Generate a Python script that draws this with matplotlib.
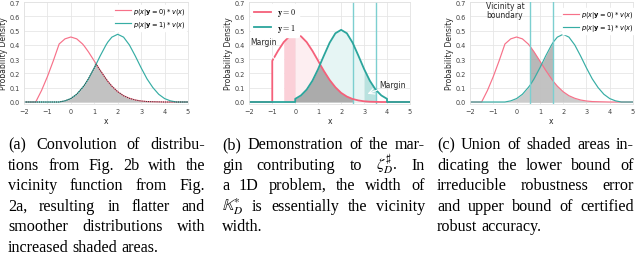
import numpy as np
import matplotlib
matplotlib.use('Agg')
import matplotlib.pyplot as plt

# convolved densities (panels a and c)
x_conv = [-2, -1.75, -1.5, -1.25, -1, -0.75, -0.5, -0.25, 0, 0.25, 0.5, 0.58, 0.75, 1,
          1.08, 1.25, 1.5, 1.58, 1.75, 2, 2.25, 2.5, 2.75, 3, 3.25, 3.5, 3.75, 4, 4.25,
          4.5, 4.75, 5]
red_conv = [0, 0, 0, 0.081, 0.178, 0.288, 0.406, 0.442, 0.455, 0.442, 0.406, 0.390, 0.351,
            0.287, 0.266, 0.222, 0.162, 0.144, 0.111, 0.072, 0.044, 0.026, 0.014, 0.007,
            0.003, 0.002, 0.001, 0, 0, 0, 0, 0]
green_conv = [0, 0, 0, 0, 0, 0, 0, 0.008, 0.024, 0.054, 0.101, 0.118, 0.162, 0.239, 0.265,
              0.322, 0.399, 0.420, 0.454, 0.474, 0.454, 0.399, 0.322, 0.239, 0.162, 0.101,
              0.054, 0.024, 0.008, 0, 0, 0]

# truncated densities (panel b)
x_b = [-2, -1, -1, -0.75, -0.5, -0.25, 0, 0, 0.25, 0.5, 0.75, 1, 1.08, 1.25, 1.5, 1.75, 2,
       2.25, 2.5, 2.75, 3, 3.25, 3.5, 3.75, 4, 4, 5]
red_b = [0, 0, 0.288, 0.358, 0.419, 0.460, 0.474, 0.474, 0.460, 0.419, 0.358, 0.288, 0.264,
         0.217, 0.154, 0.103, 0.064, 0.038, 0.021, 0.011, 0.005, 0.002, 0.001, 0, 0, 0, 0]
green_b = [0, 0, 0, 0, 0, 0, 0, 0.022, 0.046, 0.087, 0.149, 0.231, 0.262, 0.325, 0.415,
           0.481, 0.505, 0.481, 0.415, 0.325, 0.231, 0.149, 0.087, 0.046, 0.022, 0, 0]

margin_red = [-1, -0.5, 0]      # white | strong pink | light pink from here
margin_green = [3, 3.5, 4]      # light teal up to | strong teal | white
overlap_b = [0, 2.5]
vicinity_b = [2.5, 3.5]
vicinity_c = [0.58, 1.58]

label_a0 = r'$p(x|\mathbf{y}=0) * v(x)$'
label_a1 = r'$p(x|\mathbf{y}=1) * v(x)$'

captions = [
    ["(a) Convolution of distribu-",
     "tions from Fig. 2b with the",
     "vicinity function from Fig.",
     "2a, resulting in flatter and",
     "smoother distributions with",
     "increased shaded areas."],
    ["(b) Demonstration of the mar-",
     r"gin contributing to $\zeta^{\sharp}_{D}$. In",
     "a 1D problem, the width of",
     r"$\mathbb{K}^{*}_{D}$ is essentially the vicinity",
     "width."],
    ["(c) Union of shaded areas in-",
     "dicating the lower bound of",
     "irreducible robustness error",
     "and upper bound of certified",
     "robust accuracy."],
]

RED = '#f77189'
GREEN = '#36ada4'
RED_B = '#f5607a'
GREEN_B = '#2ba59c'
VLINE = '#7ccfd0'

W, H = 640, 255
fig = plt.figure(figsize=(W / 100, H / 100), dpi=100)


def add_ax(left, right):
    return fig.add_axes([left / W, 1 - 105 / H, (right - left) / W, 102 / H])


def style(ax):
    ax.set_xlim(-2, 5)
    ax.set_ylim(-0.014, 0.7)
    ax.set_xticks(range(-2, 6))
    ax.set_yticks([0, 0.1, 0.2, 0.3, 0.4, 0.5, 0.6, 0.7])
    ax.set_yticklabels(['0.0', '0.1', '0.2', '0.3', '0.4', '0.5', '0.6', '0.7'])
    ax.grid(True, color='#e6e6e6', lw=0.6)
    ax.set_axisbelow(True)
    ax.tick_params(length=0, labelsize=4.7, pad=3, colors='.25')
    for s in ax.spines.values():
        s.set_color('#e2e2e2')
        s.set_linewidth(0.6)
    ax.set_xlabel('x', fontsize=5.5, labelpad=1.5, color='.15')
    ax.set_ylabel('Probability Density', fontsize=5.5, labelpad=1, color='.15')


leg_kw = dict(loc='upper right', fontsize=4.8, facecolor='white', edgecolor='white',
              framealpha=1, handlelength=2.3, handletextpad=0.35, borderpad=0.15,
              labelspacing=0.3, borderaxespad=0)

xc = np.array(x_conv)
rc = np.array(red_conv)
gc = np.array(green_conv)
lo_c = np.minimum(rc, gc)
hi_c = np.maximum(rc, gc)

# (a)
ax = add_ax(24, 188)
style(ax)
ax.fill_between(xc, 0, lo_c, color='#c2c2c2', lw=0, zorder=1.5)
ax.plot(xc, rc, color=RED, lw=0.85, label=label_a0)
ax.plot(xc, gc, color=GREEN, lw=0.85, label=label_a1)
ax.plot(xc, lo_c, color='#303030', ls=(0, (1, 1.2)), lw=0.7)
ax.legend(bbox_to_anchor=(0.991, 0.975), **leg_kw)

# (b)
xb = np.array(x_b)
rb = np.array(red_b)
gb = np.array(green_b)
lo_b = np.minimum(rb, gb)
ax = add_ax(249.3, 410)
style(ax)
m = (xb >= margin_red[0]) & (xb <= margin_red[1])
ax.fill_between(xb, 0, rb, where=m, color='white', lw=0, zorder=1.2)
m = (xb >= margin_red[1]) & (xb <= margin_red[2])
ax.fill_between(xb, 0, rb, where=m, color='#fbd0d8', lw=0, zorder=1.2)
m = xb >= margin_red[2]
ax.fill_between(xb, 0, rb, where=m, color='#fdeef1', lw=0, zorder=1.2)
m = (xb >= 0) & (xb <= margin_green[0])
ax.fill_between(xb, 0, gb, where=m, color='#e6f5f4', lw=0, zorder=1.3)
m = (xb >= margin_green[0]) & (xb <= margin_green[1])
ax.fill_between(xb, 0, gb, where=m, color='#b9e2df', lw=0, zorder=1.3)
m = (xb >= margin_green[1]) & (xb <= margin_green[2])
ax.fill_between(xb, 0, gb, where=m, color='white', lw=0, zorder=1.3)
m = (xb >= overlap_b[0]) & (xb <= overlap_b[1])
ax.fill_between(xb, 0, lo_b, where=m, color='#ababab', lw=0, zorder=1.4)
for v in vicinity_b:
    ax.axvline(v, color=VLINE, lw=1.0, zorder=1.8)
ax.plot(xb, rb, color=RED_B, lw=1.3, label=r'$\mathbf{y}=0$')
ax.plot(xb, gb, color=GREEN_B, lw=1.3, label=r'$\mathbf{y}=1$')
leg = ax.legend(loc='upper left', fontsize=5.8, facecolor='white', edgecolor='white',
                framealpha=1, handlelength=2.1, borderpad=0.35, labelspacing=0.45,
                borderaxespad=0.2)
for t in leg.get_texts():
    t.set_math_fontfamily('cm')
ax.text(-1.98, 0.42, 'Margin', fontsize=5.5, va='center', ha='left', color='.15')
ax.annotate('', xy=(-0.5, 0.23), xytext=(-1.4, 0.39),
            arrowprops=dict(arrowstyle='->', color='white', lw=0.8))
ax.text(3.65, 0.12, 'Margin', fontsize=5.5, va='center', ha='left', color='.15')
ax.annotate('', xy=(3.04, 0.05), xytext=(3.68, 0.09),
            arrowprops=dict(arrowstyle='->', color='white', lw=0.8))

# (c)
ax = add_ax(470, 633)
style(ax)
ax.fill_between(xc, 0, lo_c, color='#c4c4c4', lw=0, zorder=1.4, alpha=0.85)
band = (xc >= vicinity_c[0]) & (xc <= vicinity_c[1])
ax.fill_between(xc, 0, hi_c, where=band, color='#9a9a9a', lw=0, zorder=1.3, alpha=0.7)
for v in vicinity_c:
    ax.axvline(v, color=VLINE, lw=1.0, zorder=6)
ax.plot(xc, rc, color=RED, lw=0.85, label=label_a0)
ax.plot(xc, gc, color=GREEN, lw=0.85, label=label_a1)
ax.legend(bbox_to_anchor=(1.01, 0.94), **leg_kw)
ax.text(-0.5, 0.645, 'Vicinity at\nboundary', fontsize=5.5, ha='center', va='center',
        color='.15', linespacing=1.05)

# captions, justified like the paper
renderer = fig.canvas.get_renderer()
cap_kw = dict(fontsize=11.6, family=['Liberation Serif', 'DejaVu Serif'],
              math_fontfamily='stix', va='baseline', ha='left', color='black')
columns = [(8, 205), (222, 425), (437, 634)]
y0, dy = 149, 20.6


def width(t):
    return t.get_window_extent(renderer).width


sp = fig.text(0, 0, 'a a', **cap_kw)
sp2 = fig.text(0, 0, 'aa', **cap_kw)
space_w = width(sp) - width(sp2)
sp.remove()
sp2.remove()

for (c0, c1), lines in zip(columns, captions):
    for i, line in enumerate(lines):
        y = 1 - (y0 + i * dy) / H
        words = line.split(' ')
        ts = [fig.text(0, y, w, **cap_kw) for w in words]
        ws = [width(t) for t in ts]
        if i == len(lines) - 1 or len(words) == 1:
            gap = space_w
        else:
            gap = (c1 - c0 - sum(ws)) / (len(words) - 1)
        x = c0
        for t, w in zip(ts, ws):
            t.set_x(x / W)
            x += w + gap

fig.savefig('out.png', dpi=100)
